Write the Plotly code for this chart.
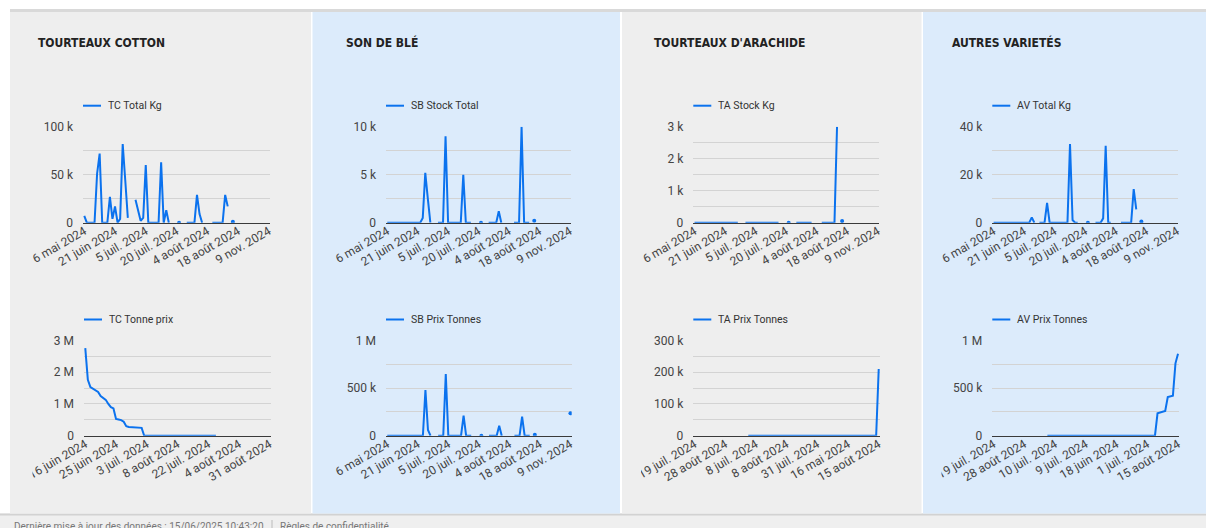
import plotly.graph_objects as go

N = None

# ---------------- data ----------------
panel_titles = ["TOURTEAUX COTTON", "SON DE BLÉ", "TOURTEAUX D'ARACHIDE", "AUTRES VARIETÉS"]

series_names = ["TC Total Kg", "TC Tonne prix", "SB Stock Total", "SB Prix Tonnes",
                "TA Stock Kg", "TA Prix Tonnes", "AV Total Kg", "AV Prix Tonnes"]

dates_stock = ["6 mai 2024", "21 juin 2024", "5 juil. 2024", "20 juil. 2024",
               "4 août 2024", "18 août 2024", "9 nov. 2024"]
dates_tc_prix = ["16 juin 2024", "25 juin 2024", "3 juil. 2024", "8 août 2024",
                 "22 juil. 2024", "4 août 2024", "31 août 2024"]
dates_ta_prix = ["19 juil. 2024", "28 août 2024", "8 juil. 2024", "8 août 2024",
                 "31 juil. 2024", "16 mai 2024", "15 août 2024"]
dates_av_prix = ["19 juil. 2024", "28 août 2024", "10 juil. 2024", "9 juil. 2024",
                 "18 juin 2024", "1 juil. 2024", "15 août 2024"]

tc_total_kg = [7000, 0, 0, 0, 0, 51000, 72000, 0, 0, 0,
               27000, 4000, 17000, 0, 4000, 82000, 44000, 5000, N, N,
               24000, 12000, 2000, 5000, 60000, 0, 0, 0, 0, 0,
               63000, 0, 13000, 0, N, N, N, 0, N, N,
               0, 0, 0, 0, 29000, 9000, 0, N, N, N,
               0, 0, 0, 0, 0, 29000, 17000, N, 1000] + [N] * 14

tc_tonne_prix = [2760000, 1760000, 1530000, 1480000, 1440000, 1380000, 1250000, 1180000,
                 1130000, 1000000, 900000, 860000, 530000, 510000, 490000, 440000,
                 300000, 275000, 265000, 260000, 255000, 252000, 248000] + [0] * 29 + [N] * 21

sb_stock_total = [0] * 14 + [500, 5200, 2500, 0, N, N, 0, 0, 0, 9000, 0,
                             0, 0, 0, 0, 0, 5000, 0, 0, 0, N, N, N, 0, N, N,
                             0, 0, 0, 0, 1200, 0, N, N, N, N,
                             0, 0, 0, 10000, 0, 0, 0, N, 200] + [N] * 14

sb_prix_tonnes = [0] * 15 + [480000, 60000, 0, N, N, 0, 0, 0, 647000, 0,
                             0, 0, 0, 0, 0, 210000, 0, 0, 0, N, N, N, 0, N, N,
                             0, 0, 0, 0, 105000, 0, N, N, N, N,
                             0, 0, 0, 200000, 0, 0, 0, N, 10000] + [N] * 13 + [235000]

ta_stock_kg = [0] * 18 + [N, N] + [0] * 14 + [N, N, N, 0, N, N] + [0] * 7 + [N, N, N] \
              + [0] * 6 + [3000, N, 50] + [N] * 14

ta_prix_tonnes = [N] * 21 + [0] * 51 + [210000]

av_total_kg = [0] * 15 + [2200, 0, N, 0, 0, 0, 8300, 0,
                          0, 0, 0, 0, 0, 0, 0, 32800, 1100, 0, 0, N, N, N, 0, N, N,
                          0, 0, 0, 1800, 32000, 0, 0, N, N, N,
                          0, 0, 0, 0, 0, 14000, 5600, N, 500] + [N] * 14

av_prix_tonnes = [N] * 21 + [0] * 43 + [235000, 245000, 255000, 260000, 405000,
                                        415000, 420000, 760000, 860000]

# ---------------- layout helpers ----------------
W, H = 1206, 528
BLUE = "#0b72ee"
GRAY_BG = "#eeeeee"
BLUE_BG = "#dcebfb"
GRID = "#d3d3d3"
AXIS = "#3a3a3a"
TICK_FONT = dict(family="Roboto, Arial, sans-serif", size=12, color="#444444")
TITLE_FONT = dict(family="Liberation Sans Narrow, DejaVu Sans Condensed, Roboto, sans-serif",
                  size=12, color="#222222", weight="bold")


def px_x(x):
    return x / W


def px_y(y):
    return 1 - y / H


def fmt(v):
    if v == 0:
        return "0"
    if v >= 1e6:
        return f"{v / 1e6:g} M"
    return f"{v / 1e3:g} k"


# name, values, x labels, ymax, grid step, label step, plot box (x0, x1, ytop, ybottom)
charts = [
    (series_names[0], tc_total_kg, dates_stock, 100000, 25000, 50000, (83, 270, 126.7, 222.7)),
    (series_names[1], tc_tonne_prix, dates_tc_prix, 3000000, 500000, 1000000, (84, 271, 340.5, 435.7)),
    (series_names[2], sb_stock_total, dates_stock, 10000, 2500, 5000, (386, 571, 126.7, 222.7)),
    (series_names[3], sb_prix_tonnes, dates_stock, 1000000, 250000, 500000, (386, 571.7, 340.5, 435.7)),
    (series_names[4], ta_stock_kg, dates_stock, 3000, 500, 1000, (693.3, 879, 126.7, 222.7)),
    (series_names[5], ta_prix_tonnes, dates_ta_prix, 300000, 50000, 100000, (693.3, 880, 340.5, 435.7)),
    (series_names[6], av_total_kg, dates_stock, 40000, 10000, 20000, (992.3, 1178.3, 126.7, 222.7)),
    (series_names[7], av_prix_tonnes, dates_av_prix, 1000000, 250000, 500000, (992.3, 1179.3, 340.5, 435.7)),
]

panels = [  # x0, x1, colour, title x
    (10, 311, GRAY_BG, 36),
    (312.5, 620, BLUE_BG, 344),
    (622, 921.5, GRAY_BG, 652),
    (923, 1206, BLUE_BG, 950),
]

fig = go.Figure()
shapes = []
annotations = []

# page chrome
shapes.append(dict(type="rect", xref="paper", yref="paper", x0=px_x(10), x1=1,
                   y0=px_y(12), y1=px_y(9), fillcolor="#d9d9d9", line_width=0, layer="below"))
shapes.append(dict(type="rect", xref="paper", yref="paper", x0=0, x1=1,
                   y0=0, y1=px_y(513.5), fillcolor="#efefef", line_width=0, layer="below"))
shapes.append(dict(type="rect", xref="paper", yref="paper", x0=0, x1=1,
                   y0=px_y(515.5), y1=px_y(513.5), fillcolor="#d2d2d2", line_width=0, layer="below"))
for (x0, x1, col, tx), title in zip(panels, panel_titles):
    shapes.append(dict(type="rect", xref="paper", yref="paper", x0=px_x(x0), x1=px_x(x1),
                       y0=px_y(513.5), y1=px_y(12), fillcolor=col, line_width=0, layer="below"))
    annotations.append(dict(text=title, xref="paper", yref="paper", x=px_x(tx), y=px_y(43),
                            xanchor="left", yanchor="middle", showarrow=False, font=TITLE_FONT))

FOOT_FONT = dict(family="Roboto, Arial, sans-serif", size=10, color="#777777")
annotations.append(dict(text="Dernière mise à jour des données : 15/06/2025 10:43:20",
                        xref="paper", yref="paper", x=px_x(12), y=px_y(519), xanchor="left",
                        yanchor="top", showarrow=False, font=FOOT_FONT))
annotations.append(dict(text="Règles de confidentialité",
                        xref="paper", yref="paper", x=px_x(278), y=px_y(519), xanchor="left",
                        yanchor="top", showarrow=False, font=FOOT_FONT))
shapes.append(dict(type="line", xref="paper", yref="paper", x0=px_x(272), x1=px_x(272),
                   y0=0, y1=px_y(520), line=dict(color="#bbbbbb", width=1)))

layout = {}
for k, (name, vals, xlabels, ymax, gstep, lstep, (x0, x1, yt, yb)) in enumerate(charts, start=1):
    n = len(vals)
    xs = list(range(n))
    sizes = []
    for i, v in enumerate(vals):
        iso = v is not None and (i == 0 or vals[i - 1] is None) and (i == n - 1 or vals[i + 1] is None)
        sizes.append(4 if iso else 0)
    sfx = "" if k == 1 else str(k)
    fig.add_trace(go.Scatter(x=xs, y=vals, mode="lines+markers", name=name,
                             line=dict(color=BLUE, width=2),
                             marker=dict(size=sizes, color=BLUE, opacity=1, line_width=0),
                             connectgaps=False, showlegend=False, hoverinfo="skip",
                             xaxis="x" + sfx, yaxis="y" + sfx))
    step = (n - 1) // (len(xlabels) - 1)
    tickvals_x = list(range(0, n, step))[:len(xlabels)]
    ngrid = int(round(ymax / gstep))
    yvals = [j * gstep for j in range(ngrid + 1)]
    ytext = [fmt(v) if (v % lstep == 0) else "" for v in yvals]
    layout["xaxis" + sfx] = dict(domain=[px_x(x0), px_x(x1)], anchor="y" + sfx,
                                 range=[-0.5, n - 0.5], tickmode="array", tickvals=tickvals_x,
                                 ticktext=xlabels, tickangle=-30, showgrid=False, zeroline=False,
                                 showline=True, linecolor=AXIS, linewidth=1.3, layer="below traces",
                                 ticks="", tickfont=TICK_FONT, ticklabelstandoff=-4,
                                 fixedrange=True, automargin=False)
    layout["yaxis" + sfx] = dict(domain=[px_y(yb), px_y(yt)], anchor="x" + sfx,
                                 range=[0, ymax], tickmode="array", tickvals=yvals, ticktext=ytext,
                                 showgrid=True, gridcolor=GRID, gridwidth=1, zeroline=False,
                                 showline=False, ticks="", tickfont=TICK_FONT,
                                 ticklabelstandoff=9, fixedrange=True, automargin=False)
    # legend (line sample + name)
    ly = yt - 21
    shapes.append(dict(type="line", xref="paper", yref="paper", x0=px_x(x0), x1=px_x(x0 + 18),
                       y0=px_y(ly), y1=px_y(ly), line=dict(color=BLUE, width=2)))
    annotations.append(dict(text=name, xref="paper", yref="paper", x=px_x(x0 + 23), y=px_y(ly),
                            xanchor="left", yanchor="middle", showarrow=False,
                            font=dict(family="Roboto, Arial, sans-serif", size=10.5, color="#333333")))

# covers emulating the clipping of long first labels at the chart component's left edge
for (cx0, cx1, col) in [(10, 32.5, GRAY_BG), (622, 641, GRAY_BG), (923, 941.5, BLUE_BG)]:
    shapes.append(dict(type="rect", xref="paper", yref="paper", x0=px_x(cx0), x1=px_x(cx1),
                       y0=px_y(500), y1=px_y(437), fillcolor=col, line_width=0, layer="above"))

fig.update_layout(**layout)
fig.update_layout(width=W, height=H,
                  margin=dict(l=0, r=0, t=0, b=0, pad=0, autoexpand=False),
                  paper_bgcolor="white", plot_bgcolor="rgba(0,0,0,0)",
                  shapes=shapes, annotations=annotations, showlegend=False)

fig.write_html("out.html", config={"displayModeBar": False},
               post_script="document.body.style.margin='0';document.body.style.overflow='hidden';")
